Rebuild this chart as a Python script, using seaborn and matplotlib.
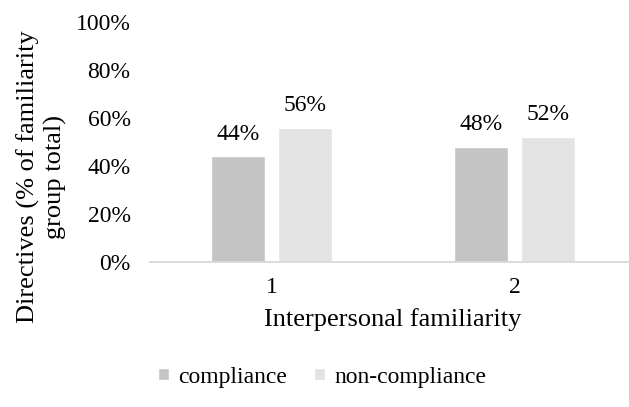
import pandas as pd
import seaborn as sns
import matplotlib.pyplot as plt
from matplotlib.ticker import PercentFormatter

familiarity = ['1', '2']
compliance = [44, 48]
non_compliance = [56, 52]

df = pd.DataFrame({
    'familiarity': familiarity * 2,
    'type': ['compliance'] * 2 + ['non-compliance'] * 2,
    'pct': compliance + non_compliance,
})

sns.set_style('white')
plt.rcParams['font.family'] = ['Liberation Serif', 'DejaVu Serif']
plt.rcParams['text.color'] = 'black'
plt.rcParams['axes.labelcolor'] = 'black'
plt.rcParams['xtick.color'] = 'black'
plt.rcParams['ytick.color'] = 'black'

fig = plt.figure(figsize=(6.29, 4.07), dpi=100)
ax = fig.add_axes([150 / 629, 145 / 407, 486 / 629, 240 / 407])

sns.barplot(data=df, x='familiarity', y='pct', hue='type',
            palette=['#c4c4c4', '#e3e3e3'], width=0.55, gap=0.2,
            saturation=1, ax=ax, legend=True)

for c in ax.containers:
    ax.bar_label(c, labels=[f'{v:.0f}%' for v in c.datavalues],
                 padding=8.5, fontsize=17)

ax.set_ylim(0, 100)
ax.set_yticks(range(0, 101, 20))
ax.yaxis.set_major_formatter(PercentFormatter(decimals=0))
ax.tick_params(axis='both', length=0, labelsize=17)
ax.tick_params(axis='y', pad=14)
ax.tick_params(axis='x', pad=11)
for s in ['top', 'right', 'left']:
    ax.spines[s].set_visible(False)
ax.spines['bottom'].set_color('#d9d9d9')
ax.spines['bottom'].set_linewidth(1.3)

ax.set_xlabel('Interpersonal familiarity', fontsize=19, labelpad=7)
ax.set_ylabel('Directives (% of familiarity\ngroup total)', fontsize=19,
              linespacing=1.2)
ax.yaxis.set_label_coords(-83 / 486, 85 / 240)

handles, labels = ax.get_legend_handles_labels()
ax.get_legend().remove()
fig.legend(handles, labels, loc='center', bbox_to_anchor=(322 / 629, 1 - 377 / 407),
           ncol=2, frameon=False, fontsize=17, handlelength=0.45, handleheight=0.45,
           handletextpad=0.4, columnspacing=1.15)

fig.savefig('out.png', dpi=100)
